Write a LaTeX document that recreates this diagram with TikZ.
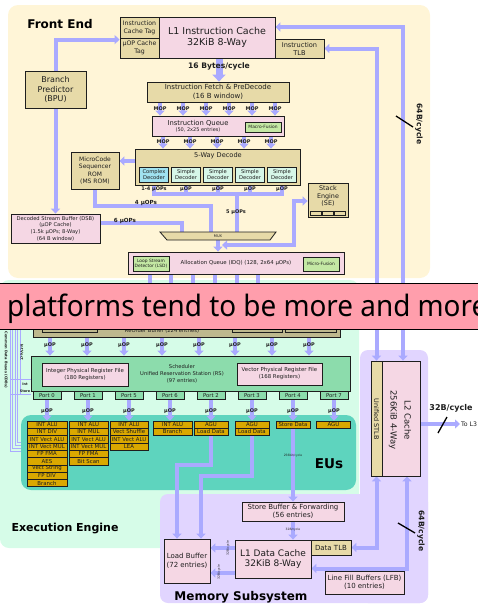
\documentclass[tikz,border=0pt]{standalone}
\usepackage{fontspec}
\setmainfont{DejaVu Sans}
\newfontfamily\bannerfont[FakeStretch=0.945]{Noto Sans}
\usetikzlibrary{arrows.meta,calc}
\pgfdeclarelayer{bg}
\pgfdeclarelayer{lines}
\pgfdeclarelayer{top}
\pgfsetlayers{bg,lines,main,top}

\definecolor{cFront}{RGB}{255,245,215}
\definecolor{cTan}{RGB}{231,218,168}
\definecolor{cPink}{RGB}{245,215,228}
\definecolor{cLeaf}{RGB}{196,232,164}
\definecolor{cSimple}{RGB}{214,246,232}
\definecolor{cComplex}{RGB}{160,226,240}
\definecolor{cMint}{RGB}{214,252,232}
\definecolor{cSched}{RGB}{140,220,172}
\definecolor{cEU}{RGB}{94,212,190}
\definecolor{cGold}{RGB}{218,168,0}
\definecolor{cLav}{RGB}{225,213,255}
\definecolor{cFlow}{RGB}{170,170,255}
\definecolor{cBanner}{RGB}{255,158,172}
\definecolor{cROB}{RGB}{190,184,142}
\definecolor{cInk}{RGB}{30,30,30}

\newcommand\fs[2]{\fontsize{#1}{#2}\selectfont}
% box from corner (x1,y1) to (x2,y2): name, x1, y1, x2, y2, style, text
\newcommand\bx[7]{\node[#6,minimum width={(#4-#2)*1pt},minimum height={(#5-#3)*1pt}] (#1) at ({(#2+#4)/2},{(#3+#5)/2}) {#7};}
% column of execution units under a port: prefix, x, width, list
\newcommand\eucol[4]{\foreach \eutxt [count=\i] in {#4}
  \node[gold,minimum width=#3pt,minimum height=7.3pt] (#1\i) at (#2,{421+(\i-0.5)*7.3}) {\eutxt};}

\tikzset{
  blk/.style={draw=cInk,line width=0.8pt,inner sep=0pt,align=center,text=cInk},
  tanb/.style={blk,fill=cTan},
  pinkb/.style={blk,fill=cPink},
  leafb/.style={blk,fill=cLeaf},
  simpb/.style={blk,fill=cSimple},
  cplxb/.style={blk,fill=cComplex},
  schb/.style={blk,fill=cSched},
  robb/.style={blk,fill=cROB},
  gold/.style={blk,fill=cGold,line width=0.6pt,font=\fs{5.4}{6}},
  conn/.style={draw=cFlow,line width=4pt},
  arr/.style={conn,-{Triangle[length=5pt,width=9pt]}},
  darr/.style={conn,{Triangle[length=5pt,width=9pt]}-{Triangle[length=5pt,width=9pt]}},
  thinbus/.style={draw=cFlow,line width=0.8pt},
  lbl/.style={font=\bfseries\fs{5}{6},inner sep=0pt,text=cInk},
  ttl/.style={font=\bfseries\fs{12}{14},inner sep=0pt,text=black},
  slash/.style={draw=black,line width=1.3pt},
  plain/.style={inner sep=0pt,align=center,text=cInk}
}

\begin{document}
\begin{tikzpicture}[x=1pt,y=-1pt]
\path[use as bounding box] (0,0) rectangle (478,605);

% ---------- region backgrounds ----------
\begin{pgfonlayer}{bg}
\fill[cFront,rounded corners=10pt] (8,5) rectangle (430,278);
\fill[cMint,rounded corners=9pt] (0,280) rectangle (359,548);
\fill[cLav,rounded corners=8pt] (360,350) rectangle (428,603);
\fill[cLav,rounded corners=8pt] (160,494) rectangle (428,603);
\node[fill=cEU,rounded corners=10pt,minimum width=335pt,minimum height=75pt,inner sep=0pt] (eus) at (188.5,452.5) {};
\end{pgfonlayer}

% ---------- section titles ----------
\node[ttl] (fe) at (60,24.5) {Front End};
\node[ttl,font=\bfseries\fs{11}{13}] (ee) at (65,529) {Execution Engine};
\node[ttl] (ms) at (241,597) {Memory Subsystem};
\node[ttl,font=\bfseries\fs{13.5}{15}] (eut) at (329,464) {EUs};

% ---------- front end ----------
\bx{ictag}{120}{17}{159}{38}{tanb,font=\fs{6.2}{7.6}}{Instruction\\Cache Tag}
\bx{uoptag}{120}{38}{159}{58}{tanb,font=\fs{6.2}{7.6}}{μOP Cache\\Tag}
\bx{l1i}{159}{17}{275}{58}{pinkb,font=\fs{9.5}{10.5}}{L1 Instruction Cache\\32KiB 8-Way}
\bx{itlb}{275}{39}{324}{58}{tanb,font=\fs{6.6}{8}}{Instruction\\TLB}
\bx{bpu}{25}{71}{86}{108}{tanb,font=\fs{8}{9.5}}{Branch\\Predictor\\(BPU)}
\bx{fetch}{147}{82}{289}{102}{tanb,font=\fs{7}{8.5}}{Instruction Fetch \& PreDecode\\(16 B window)}
\bx{iq}{152}{116}{284}{136}{pinkb}{}
\node[plain,font=\fs{6.8}{6.5}] (iqt) at (198,126) {Instruction Queue\\\fs{5}{6}(50, 2x25 entries)};
\bx{mf1}{245}{122}{281}{132}{leafb,font=\fs{4.4}{5}}{Macro-Fusion}
\bx{dec}{135}{149}{300}{185}{tanb}{}
\node[plain,font=\fs{6.6}{8}] (dect) at (218,156) {5-Way Decode};
\bx{d1}{139.5}{167}{168.5}{182}{cplxb,font=\fs{5.2}{6.2}}{Complex\\Decoder}
\bx{d2}{171.5}{167}{200.5}{182}{simpb,font=\fs{5.2}{6.2}}{Simple\\Decoder}
\bx{d3}{203.5}{167}{232.5}{182}{simpb,font=\fs{5.2}{6.2}}{Simple\\Decoder}
\bx{d4}{235.5}{167}{264.5}{182}{simpb,font=\fs{5.2}{6.2}}{Simple\\Decoder}
\bx{d5}{267.5}{167}{296.5}{182}{simpb,font=\fs{5.2}{6.2}}{Simple\\Decoder}
\bx{msrom}{71}{152}{119}{189}{tanb,font=\fs{6}{7.5}}{MicroCode\\Sequencer\\ROM\\(MS ROM)}
\bx{dsb}{11}{214}{100}{243}{pinkb,font=\fs{5.2}{6.6}}{Decoded Stream Buffer (DSB)\\(μOP Cache)\\(1.5k μOPs; 8-Way)\\(64 B window)}
\draw[fill=cTan,draw=cInk,line width=0.8pt] (160,232) -- (276,232) -- (270,240) -- (167,240) -- cycle;
\node[plain,minimum width=100pt,minimum height=8pt,font=\fs{3.6}{4}] (mux) at (218,236) {MUX};
\bx{se}{308}{183}{348}{217}{tanb}{}
\node[plain,font=\fs{6.4}{7.8}] (set) at (328,196) {Stack\\Engine\\(SE)};
\bx{sea}{310.5}{211}{321.5}{215.5}{tanb,line width=0.5pt}{}
\bx{seb}{322.5}{211}{333.5}{215.5}{tanb,line width=0.5pt}{}
\bx{sec}{334.5}{211}{345.5}{215.5}{tanb,line width=0.5pt}{}
\bx{idq}{128}{252}{344}{274}{pinkb}{}
\node[plain,font=\fs{5.4}{6}] (idqt) at (236,263) {Allocation Queue (IDQ) (128, 2x64 μOPs)};
\bx{lsd}{133}{256}{169}{271}{leafb,font=\fs{4.4}{5.4}}{Loop Stream\\Detector (LSD)}
\bx{mf2}{303}{257}{339}{271}{leafb,font=\fs{4.4}{5}}{Micro-Fusion}

% ---------- execution engine ----------
\bx{rob}{33}{310}{340}{337}{robb}{}
\bx{robx1}{42}{312}{97}{332}{robb}{}
\bx{robx2}{232}{312}{282}{332}{robb}{}
\bx{robx3}{285}{312}{336}{332}{robb}{}
\node[plain,font=\fs{5.2}{6}] (robt) at (162,331) {ReOrder Buffer (224 entries)};
\bx{sched}{31}{356}{350}{391}{schb}{}
\node[plain,font=\fs{5.2}{7}] (scht) at (182,374) {Scheduler\\Unified Reservation Station (RS)\\(97 entries)};
\bx{iprf}{42}{363}{128}{386}{pinkb,font=\fs{5.4}{7}}{Integer Physical Register File\\(180 Registers)}
\bx{vprf}{237}{363}{322}{385}{pinkb,font=\fs{5.4}{7}}{Vector Physical Register File\\(168 Registers)}
\foreach \x/\n in {47/0,88/1,129/5,170/6,211/2,252/3,293/4,334/7}
  \node[schb,minimum width=28pt,minimum height=8pt,font=\fs{5.3}{6}] (p\n) at (\x,395.5) {Port \n};
\eucol{c0}{47}{40}{INT ALU,INT DIV,INT Vect ALU,INT Vect MUL,FP FMA,AES,Vect String,FP DIV,Branch}
\eucol{c1}{88.5}{39}{INT ALU,INT MUL,INT Vect ALU,INT Vect MUL,FP FMA,Bit Scan}
\eucol{c5}{129}{38}{INT ALU,Vect Shuffle,INT Vect ALU,LEA}
\eucol{c6}{172.5}{39}{INT ALU,Branch}
\eucol{c2}{211}{34}{AGU,Load Data}
\eucol{c3}{252}{34}{AGU,Load Data}
\eucol{c4}{293}{34}{Store Data}
\eucol{c7}{333.5}{34}{AGU}

% ---------- memory subsystem ----------
\bx{sb}{242}{502}{344}{521}{pinkb,font=\fs{7}{8.5}}{Store Buffer \& Forwarding\\(56 entries)}
\bx{l1d}{235}{540}{311}{578}{pinkb,font=\fs{9}{10.5}}{L1 Data Cache\\32KiB 8-Way}
\bx{dtlb}{311}{540}{351}{555}{tanb,font=\fs{7}{8}}{Data TLB}
\bx{lfb}{325}{571}{404}{594}{pinkb,font=\fs{7}{8}}{Line Fill Buffers (LFB)\\(10 entries)}
\bx{lb}{164}{539}{210}{583}{pinkb,font=\fs{7}{8.5}}{Load Buffer\\(72 entries)}
\bx{stlb}{371}{361}{382}{476}{tanb}{}
\node[plain,rotate=-90,font=\fs{6.5}{7}] (stlbt) at (376.5,419) {Unified STLB};
\bx{l2}{382}{361}{420}{476}{pinkb}{}
\node[plain,rotate=-90,font=\fs{8.5}{14}] (l2t) at (400,420) {L2 Cache\\256KiB 4-Way};

% ---------- connector labels ----------
\node[lbl,font=\bfseries\fs{7.6}{8}] (b16) at (219,66) {16 Bytes/cycle};
\foreach \x [count=\i] in {160,183,206,229,252,275} \node[lbl] (ma\i) at (\x,108.5) {MOP};
\foreach \x [count=\i] in {163,190,217,244,271} \node[lbl] (mb\i) at (\x,141.5) {MOP};
\node[lbl] (o1) at ([yshift=-7pt]d1.south) {1-4 μOPs};
\foreach \i in {2,...,5} \node[lbl] (o\i) at ([yshift=-7pt]d\i.south) {μOP};
\node[lbl,font=\bfseries\fs{5.6}{6}] (l4) at (146,203) {4 μOPs};
\node[lbl,font=\bfseries\fs{5.6}{6}] (l6) at (125,221) {6 μOPs};
\node[lbl] (l5) at (236,212) {5 μOPs};
\foreach \x [count=\i] in {50,87,124,162,199,235,272,309} \node[lbl] (r\i) at (\x,345) {μOP};
\foreach \n in {0,1,5,6,2,3,4,7} \node[lbl] (u\n) at ([yshift=-11.5pt]p\n.south) {μOP};
\node[lbl,font=\fs{3}{3.5}] (bw1) at (293,456) {256bit/cycle};
\node[lbl,font=\fs{3}{3.5}] (bw2) at (293,530) {32B/cycle};
\node[lbl,font=\fs{3}{3.5},rotate=90] (bw3) at (228,548) {32B/cycle};
\node[lbl,font=\fs{3}{3.5},rotate=90] (bw4) at (219,572) {32B/cycle};
\node[lbl,font=\bfseries\fs{7.6}{8},rotate=-90] (w64a) at (419,124) {64B/cycle};
\node[lbl,font=\bfseries\fs{7.6}{8},rotate=-90] (w64b) at (421,531) {64B/cycle};
\node[lbl,font=\bfseries\fs{8}{9}] (w32) at (451,408) {32B/cycle};
\node[plain,anchor=west,font=\fs{6.2}{7}] (tol3) at (461,424) {To L3};
\node[lbl,font=\bfseries\fs{3.6}{4},rotate=-90] (cdbt) at (6,360) {Common Data Buses (CDBs)};
\node[lbl,font=\bfseries\fs{3.6}{4},rotate=-90] (ivt) at (22,352) {Int Vect};
\node[lbl,font=\bfseries\fs{3.4}{4}] (intt) at (25,384) {Int};
\node[lbl,font=\bfseries\fs{3.4}{4}] (stt) at (25,391) {Store};
\draw[slash] (396,116) -- (413,127);
\draw[slash] (398,523) -- (415,533);
\draw[slash] (438,433) -- (447,417);

% ---------- data paths ----------
\begin{pgfonlayer}{lines}
\draw[arr] (bpu.north) |- ([yshift=-2pt]uoptag.north west);
\draw[arr] (bpu.south) -- (bpu.south |- dsb.north);
\draw[conn,line width=7pt,-{Triangle[length=7pt,width=13pt]}] (l1i.south -| b16) -- (fetch.north -| b16);
\foreach \i in {1,...,6} \draw[arr] (fetch.south -| ma\i) -- (iq.north -| ma\i);
\foreach \i in {1,...,5} \draw[arr] (iq.south -| mb\i) -- (dec.north -| mb\i);
\draw[arr] ([yshift=6pt]dec.west) -- ([yshift=6pt]dec.west -| msrom.east);
\coordinate (bus) at (237,194);
\draw[conn] (d1.south) |- (d5.south |- bus) -- (d5.south);
\foreach \i in {2,3,4} \draw[conn] (d\i.south) -- (d\i.south |- bus);
\draw[conn] (bus) -- (mux.north -| bus);
\coordinate (k4) at (211,206);
\draw[conn] (msrom.south) |- (k4) -- (mux.north -| k4);
\coordinate (k6) at (182,223);
\draw[conn] (dsb.east |- k6) -- (k6) -- (mux.north -| k6);
\draw[arr] (mux.south) -- (mux.south |- idq.north);
\coordinate (sej) at (222,245);
\coordinate (seb) at (294,201);
\draw[darr] (sej) -| (seb) -- (seb -| se.west);
\foreach \x [count=\i] in {150,171,193,215,237,258} {
  \coordinate (q\i) at (\x,300);
  \draw[arr] (idq.south -| q\i) -- (rob.north -| q\i);
}
\foreach \i in {1,...,8} \draw[arr] (rob.south -| r\i) -- (sched.north -| r\i);
\foreach \n/\c in {0/c01,1/c11,5/c51,6/c61,2/c21,3/c31,4/c41,7/c71}
  \draw[arr] (p\n.south) -- (p\n.south |- \c.north);
\coordinate (ld2) at (177,465);
\draw[arr] (c22.south) |- (ld2) -- (ld2 |- lb.north);
\coordinate (ld3) at (201,476);
\draw[arr] (c32.south) |- (ld3) -- (ld3 |- lb.north);
\draw[arr] (c41.south) -- (c41.south |- sb.north);
\draw[arr] (sb.south) -- (sb.south |- l1d.north);
\draw[arr] ([yshift=11pt]l1d.west) -- ([yshift=11pt]l1d.west -| lb.east);
\draw[arr] ([yshift=-14pt]l1d.west) -- ([yshift=-14pt]l1d.west -| lb.east);
\draw[darr] ([yshift=10.5pt]l1i.east) -| ([xshift=2pt]l2.north);
\draw[darr] (itlb.east) -| (stlb.north);
\draw[darr] (dtlb.east) -| (stlb.south);
\draw[darr] ([yshift=-9.5pt]l1d.east) -| ([xshift=6pt]l2.south);
\draw[arr] ([yshift=-5.5pt]l2.east) -- ([xshift=-1pt]tol3.west);
% common data buses
\foreach \x/\y in {10/451,12.5/448,15/445,17.5/442}
  \draw[thinbus] (\x,318) |- (eus.west |- 0,\y);
\draw[thinbus] (20,318) -- (20,394);
\draw[thinbus] (10,379) -- (sched.west |- 0,379);
\draw[thinbus] (10,394) -- (sched.west |- 0,394);
\end{pgfonlayer}

% ---------- caption strip ----------
\begin{pgfonlayer}{top}
\node[draw=black,line width=1pt,fill=cBanner,minimum width=492pt,minimum height=46pt,inner sep=0pt,anchor=west] (banner) at (-7,306) {};
\node[anchor=base west,inner sep=0pt,font=\bannerfont\fs{29.5}{32}] (btext) at (7,316) {platforms tend to be more and more};
\end{pgfonlayer}
\end{tikzpicture}
\end{document}
